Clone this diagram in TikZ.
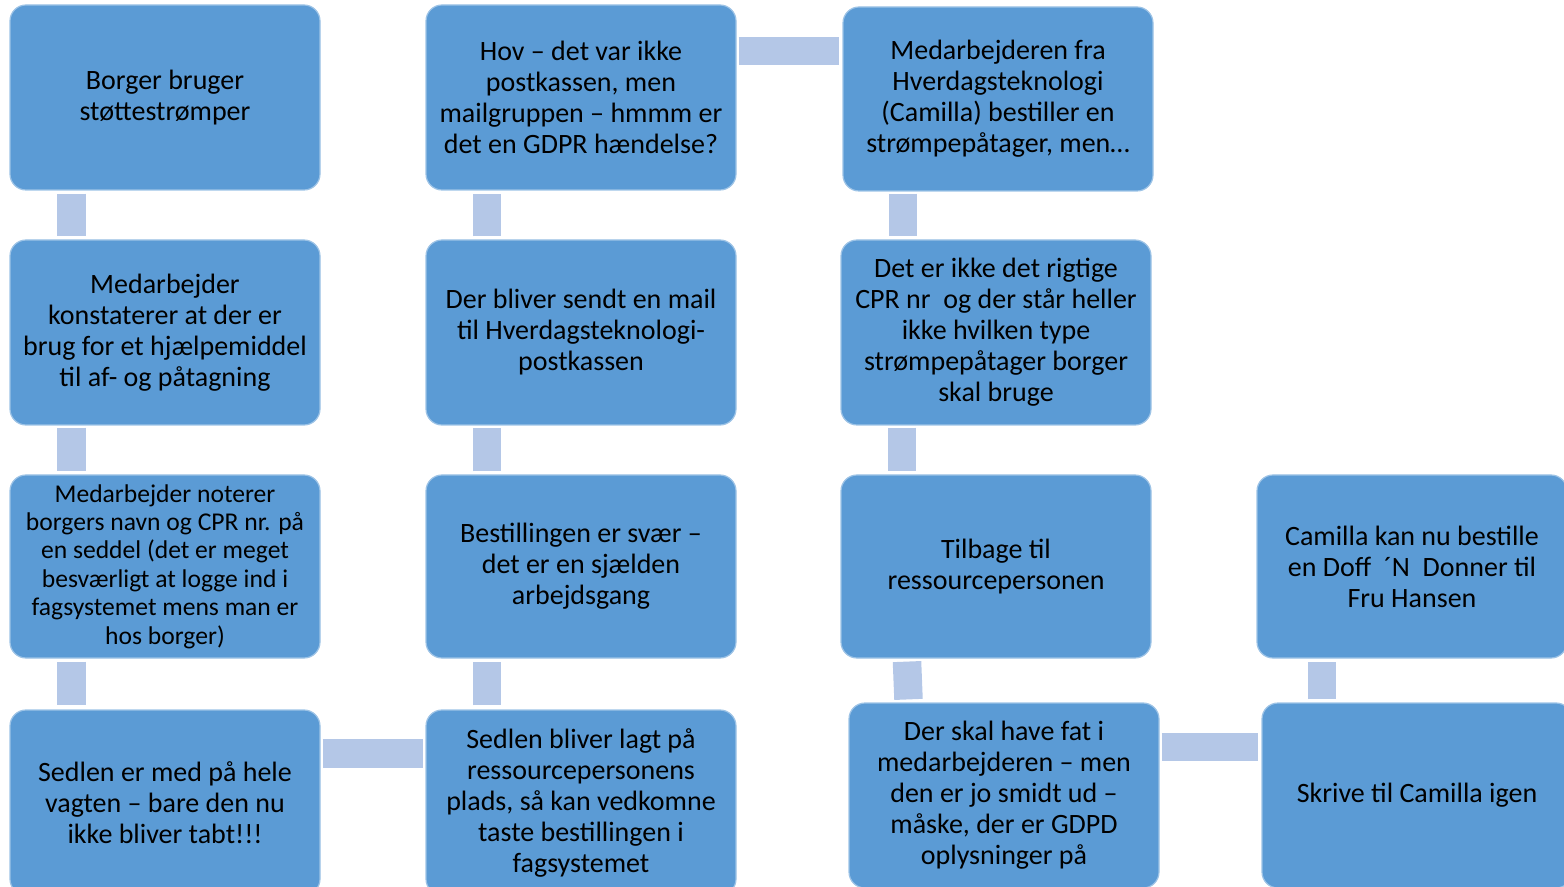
\documentclass[tikz,border=0pt]{standalone}
\usepackage{fontspec}
\setmainfont{Carlito}
\definecolor{boxblue}{HTML}{5B9BD5}
\definecolor{linkblue}{HTML}{B4C7E7}
\begin{document}
\begin{tikzpicture}[x=0.5pt,y=-0.5pt,
  box/.style={draw=white!40!boxblue,line width=0.6pt,fill=boxblue,rounded corners=8pt,
    minimum width=155pt,minimum height=92.5pt,align=center,inner sep=2pt,
    font=\fontsize{14}{15.5}\selectfont},
  smallbox/.style={box,font=\fontsize{12.8}{14.2}\selectfont},
  link/.style={draw=linkblue,line width=14.25pt}]
\useasboundingbox (0,0) rectangle (1564,887);
\clip (0,0) rectangle (1564,887);
% first column
\node[box] (a1) at (165,97.5) {Borger bruger\\støttestrømper};
\node[box] (a2) at (165,332.5) {Medarbejder\\konstaterer at der er\\brug for et hjælpemiddel\\til af- og påtagning};
\node[smallbox,minimum height=91.5pt] (a3) at (165,566.5) {Medarbejder noterer\\borgers navn og CPR nr. på\\en seddel (det er meget\\besværligt at logge ind i\\fagsystemet mens man er\\hos borger)};
\node[box] (a4) at (165,802.5) {Sedlen er med på hele\\vagten – bare den nu\\ikke bliver tabt!!!};
% second column
\node[box] (b1) at (581,97.5) {Hov – det var ikke\\postkassen, men\\mailgruppen – hmmm er\\det en GDPR hændelse?};
\node[box] (b2) at (581,332.5) {Der bliver sendt en mail\\til Hverdagsteknologi-\\postkassen};
\node[box,minimum height=91.5pt] (b3) at (581,566.5) {Bestillingen er svær –\\det er en sjælden\\arbejdsgang};
\node[box] (b4) at (581,802.5) {Sedlen bliver lagt på\\ressourcepersonens\\plads, så kan vedkomne\\taste bestillingen i\\fagsystemet};
% third column
\node[box,minimum height=92pt] (c1) at (998,99) {Medarbejderen fra\\Hverdagsteknologi\\(Camilla) bestiller en\\strømpepåtager, men…};
\node[box] (c2) at (996,332.5) {Det er ikke det rigtige\\CPR nr\ \ og der står heller\\ikke hvilken type\\strømpepåtager borger\\skal bruge};
\node[box,minimum height=91.5pt] (c3) at (996,566.5) {Tilbage til\\ressourcepersonen};
\node[box] (c4) at (1004,795.5) {Der skal have fat i\\medarbejderen – men\\den er jo smidt ud –\\måske, der er GDPD\\oplysninger på};
% fourth column
\node[box,minimum height=91.5pt] (d1) at (1412,566.5) {Camilla kan nu bestille\\en Doff\ \ ´N\ \ Donner til\\Fru Hansen};
\node[box] (d2) at (1417,795.5) {Skrive til Camilla igen};
% links
\draw[link] ([xshift=-46.75pt,yshift=-1.5pt]a1.south) -- ([xshift=-46.75pt,yshift=1.5pt]a2.north);
\draw[link] ([xshift=-46.75pt,yshift=-1pt]a2.south) -- ([xshift=-46.75pt,yshift=1.5pt]a3.north);
\draw[link] ([xshift=-46.75pt,yshift=-1.5pt]a3.south) -- ([xshift=-46.75pt,yshift=2pt]a4.north);
\draw[link] ([xshift=1pt,yshift=24.5pt]a4.east) -- ([xshift=-1pt,yshift=24.5pt]b4.west);
\draw[link] ([xshift=-47pt,yshift=2pt]b4.north) -- ([xshift=-47pt,yshift=-1.5pt]b3.south);
\draw[link] ([xshift=-47pt,yshift=1.5pt]b3.north) -- ([xshift=-47pt,yshift=-1pt]b2.south);
\draw[link] ([xshift=-47pt,yshift=1.5pt]b2.north) -- ([xshift=-47pt,yshift=-1.5pt]b1.south);
\draw[link] ([xshift=1pt,yshift=23.25pt]b1.east) -- ([xshift=-1.5pt,yshift=24pt]c1.west);
\draw[link] ([xshift=-47.5pt,yshift=-1pt]c1.south) -- ([xshift=-46.5pt,yshift=1.5pt]c2.north);
\draw[link] ([xshift=-47pt,yshift=-1pt]c2.south) -- ([xshift=-47pt,yshift=1.5pt]c3.north);
\draw[link] ([xshift=-44.5pt,yshift=-1.5pt]c3.south) -- ([xshift=-47.75pt,yshift=1.5pt]c4.north);
\draw[link] ([xshift=1pt,yshift=24.25pt]c4.east) -- ([xshift=-1.5pt,yshift=24.25pt]d2.west);
\draw[link] ([xshift=-47.5pt,yshift=1.5pt]d2.north) -- ([xshift=-45pt,yshift=-1.5pt]d1.south);
\end{tikzpicture}
\end{document}
